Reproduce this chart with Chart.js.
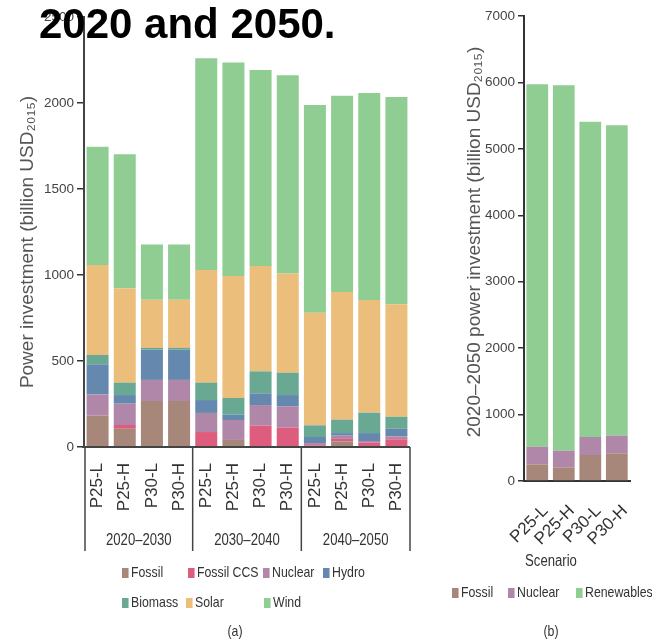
<!DOCTYPE html>
<html>
<head>
<meta charset="utf-8">
<script src="https://cdn.jsdelivr.net/npm/chart.js@4.4.1/dist/chart.umd.min.js"></script>
<style>
html,body{margin:0;padding:0;background:#fff;}
#wrap{position:relative;width:652px;height:640px;overflow:hidden;font-family:'Liberation Sans',Arial,sans-serif;color:#333;}
#left{position:absolute;left:0;top:0;}
#right{position:absolute;left:440px;top:0;}
#title{position:absolute;left:39px;top:3px;z-index:5;font:bold 42px 'Liberation Sans',Arial,sans-serif;line-height:42px;color:#000;white-space:nowrap;}
/* narrow look: regular face squeezed horizontally */
.lg{position:absolute;font-size:15px;line-height:16px;white-space:nowrap;transform-origin:left center;transform:translateY(-50%) scaleX(0.82);}
.lg i{display:inline-block;width:8px;height:10px;margin-right:3px;vertical-align:-1px;}
.cap{position:absolute;font-size:15px;line-height:16px;white-space:nowrap;transform:translate(-50%,-50%) scaleX(0.82);}
</style>
</head>
<body>
<div id="wrap">
  <canvas id="left" width="440" height="640"></canvas>
  <canvas id="right" width="212" height="640"></canvas>
  <div id="title">2020 and 2050.</div>
  <div id="legendA"></div>
  <div id="legendB"></div>
  <div class="cap" style="left:551px;top:561px;font-size:16px">Scenario</div>
  <div class="cap" style="left:235px;top:631px">(a)</div>
  <div class="cap" style="left:551px;top:631px">(b)</div>
</div>
<script>
/* ===============================
   DATA
================================= */
const periods = ['2020–2030', '2030–2040', '2040–2050'];
const scenarios = ['P25-L', 'P25-H', 'P30-L', 'P30-H'];

// decade investment by technology, billion USD2015 (4 scenarios per decade)
const fossil    = [182, 106, 267, 267,    5,   41,    5,    5,     3,   33,    3,    3];
const fossilCCS = [  0,  22,   0,   0,   82,    0,  119,  107,     7,   14,   22,   42];
const nuclear   = [124, 124, 123, 123,  111,  116,  120,  125,    13,   19,   10,   17];
const hydro     = [175,  50, 176, 176,   75,   31,   68,   65,    35,   15,   46,   44];
const biomass   = [ 54,  72,  10,  10,  101,   97,  128,  130,    68,   78,  119,   70];
const solar     = [523, 549, 280, 280,  655,  709,  612,  576,   655,  742,  655,  654];
const wind      = [688, 779, 322, 322, 1231, 1242, 1140, 1153,  1207, 1141, 1203, 1205];

// cumulative 2020-2050 investment
const cumFossil     = [251, 206, 391, 417];
const cumNuclear    = [265, 250, 271, 265];
const cumRenewables = [5456, 5501, 4747, 4672];

const leftTicks = [0, 500, 1000, 1500, 2000, 2500];
const rightTicks = [0, 1000, 2000, 3000, 4000, 5000, 6000, 7000];

const COLORS = {
  Fossil: '#a6877a',
  'Fossil CCS': '#de5c7e',
  Nuclear: '#b187a9',
  Hydro: '#6589ae',
  Biomass: '#69a994',
  Solar: '#ecbe7b',
  Wind: '#8fcd92',
  Renewables: '#8fcd92'
};

const regular = "'Liberation Sans',Arial,sans-serif";
const plain = v => String(v);

// rotated y-axis caption, placed by the chart's own options
const axisCaption = {
  id: 'axisCaption',
  afterDraw(chart, args, opts) {
    const {ctx} = chart;
    ctx.save();
    ctx.translate(opts.x, opts.y);
    ctx.rotate(-Math.PI / 2);
    ctx.font = '19px ' + regular;
    ctx.fillStyle = '#555';
    ctx.textAlign = 'center';
    ctx.textBaseline = 'middle';
    ctx.fillText(opts.text, 0, 0);
    ctx.restore();
  }
};

/* ===============================
   LEFT: investment by decade
================================= */
const decadeLabels = [];
periods.forEach(() => scenarios.forEach(s => decadeLabels.push(s)));

const decadeSeries = [
  ['Fossil', fossil], ['Fossil CCS', fossilCCS], ['Nuclear', nuclear], ['Hydro', hydro],
  ['Biomass', biomass], ['Solar', solar], ['Wind', wind]
];

// brackets under the x axis grouping the scenarios by decade
const decadeBrackets = {
  id: 'decadeBrackets',
  afterDraw(chart) {
    const {ctx, chartArea: {left, right, bottom}, scales: {x}} = chart;
    const per = scenarios.length;
    const edges = [left + 1];
    for (let g = 1; g < periods.length; g++) {
      edges.push((x.getPixelForValue(g * per - 1) + x.getPixelForValue(g * per)) / 2);
    }
    edges.push(right);
    ctx.save();
    ctx.strokeStyle = '#444';
    ctx.lineWidth = 2;
    ctx.beginPath(); ctx.moveTo(left - 2, bottom); ctx.lineTo(right, bottom); ctx.stroke();
    ctx.lineWidth = 1.5;
    edges.forEach(px => {
      ctx.beginPath(); ctx.moveTo(px, bottom); ctx.lineTo(px, bottom + 104); ctx.stroke();
    });
    ctx.font = '16px ' + regular;
    ctx.fillStyle = '#333';
    ctx.textAlign = 'center';
    ctx.textBaseline = 'middle';
    periods.forEach((p, g) => {
      ctx.save();
      ctx.translate((edges[g] + edges[g + 1]) / 2, bottom + 94);
      ctx.scale(0.82, 1);
      ctx.fillText(p, 0, 0);
      ctx.restore();
    });
    ctx.restore();
  }
};

new Chart(document.getElementById('left'), {
  type: 'bar',
  data: {
    labels: decadeLabels,
    datasets: decadeSeries.map(([label, data]) => ({
      label, data, backgroundColor: COLORS[label], borderWidth: 0,
      barPercentage: 0.81, categoryPercentage: 1
    }))
  },
  options: {
    responsive: false,
    animation: false,
    layout: {padding: {left: 0, right: 30, top: 17, bottom: 0}},
    plugins: {
      legend: {display: false}, tooltip: {enabled: false},
      axisCaption: {text: 'Power investment (billion USD₂₀₁₅)', x: 28, y: 242}
    },
    scales: {
      x: {
        stacked: true,
        grid: {display: false, drawTicks: false},
        border: {display: false},
        ticks: {autoSkip: false, minRotation: 90, maxRotation: 90, padding: 16,
                color: '#333', font: {size: 17, family: regular}},
        afterFit: s => { s.height = 193; }
      },
      y: {
        stacked: true, min: 0, max: 2500,
        afterBuildTicks: s => { s.ticks = leftTicks.map(v => ({value: v})); },
        ticks: {color: '#444', padding: 3, callback: plain, font: {size: 13.5, family: regular}},
        grid: {drawOnChartArea: false, tickLength: 7, color: '#333', lineWidth: 1.5},
        border: {color: '#444', width: 2},
        afterFit: s => { s.width = 84; }
      }
    }
  },
  plugins: [decadeBrackets, axisCaption]
});

/* ===============================
   RIGHT: cumulative 2020-2050
================================= */
const cumSeries = [['Fossil', cumFossil], ['Nuclear', cumNuclear], ['Renewables', cumRenewables]];

new Chart(document.getElementById('right'), {
  type: 'bar',
  data: {
    labels: scenarios,
    datasets: cumSeries.map(([label, data]) => ({
      label, data, backgroundColor: COLORS[label], borderWidth: 0,
      barPercentage: 0.82, categoryPercentage: 1
    }))
  },
  options: {
    responsive: false,
    animation: false,
    layout: {padding: {left: 0, right: 6, top: 16, bottom: 0}},
    plugins: {
      legend: {display: false}, tooltip: {enabled: false},
      axisCaption: {text: '2020–2050 power investment (billion USD₂₀₁₅)', x: 35, y: 242}
    },
    scales: {
      x: {
        stacked: true,
        grid: {display: false, drawTicks: false},
        border: {display: true, color: '#333', width: 2},
        ticks: {autoSkip: false, minRotation: 45, maxRotation: 45, padding: 20, labelOffset: 8,
                color: '#333', font: {size: 17, family: regular}},
        afterFit: s => { s.height = 159; }
      },
      y: {
        stacked: true, min: 0, max: 7000,
        afterBuildTicks: s => { s.ticks = rightTicks.map(v => ({value: v})); },
        ticks: {color: '#444', padding: 3, callback: plain, font: {size: 13.5, family: regular}},
        grid: {drawOnChartArea: false, tickLength: 6, color: '#333', lineWidth: 1.5},
        border: {color: '#333', width: 2},
        afterFit: s => { s.width = 84; }
      }
    }
  },
  plugins: [axisCaption]
});

/* ===============================
   LEGENDS
================================= */
function buildLegend(el, rows) {
  el.innerHTML = rows.map(([label, x, y]) =>
    `<div class="lg" style="left:${x}px;top:${y}px"><i style="background:${COLORS[label]}"></i>${label}</div>`
  ).join('');
}
buildLegend(document.getElementById('legendA'), [
  ['Fossil', 122, 572], ['Fossil CCS', 188, 572], ['Nuclear', 263, 572], ['Hydro', 323, 572],
  ['Biomass', 122, 602], ['Solar', 186, 602], ['Wind', 264, 602]
]);
buildLegend(document.getElementById('legendB'), [
  ['Fossil', 452, 592], ['Nuclear', 508, 592], ['Renewables', 576, 592]
]);
</script>
</body>
</html>
